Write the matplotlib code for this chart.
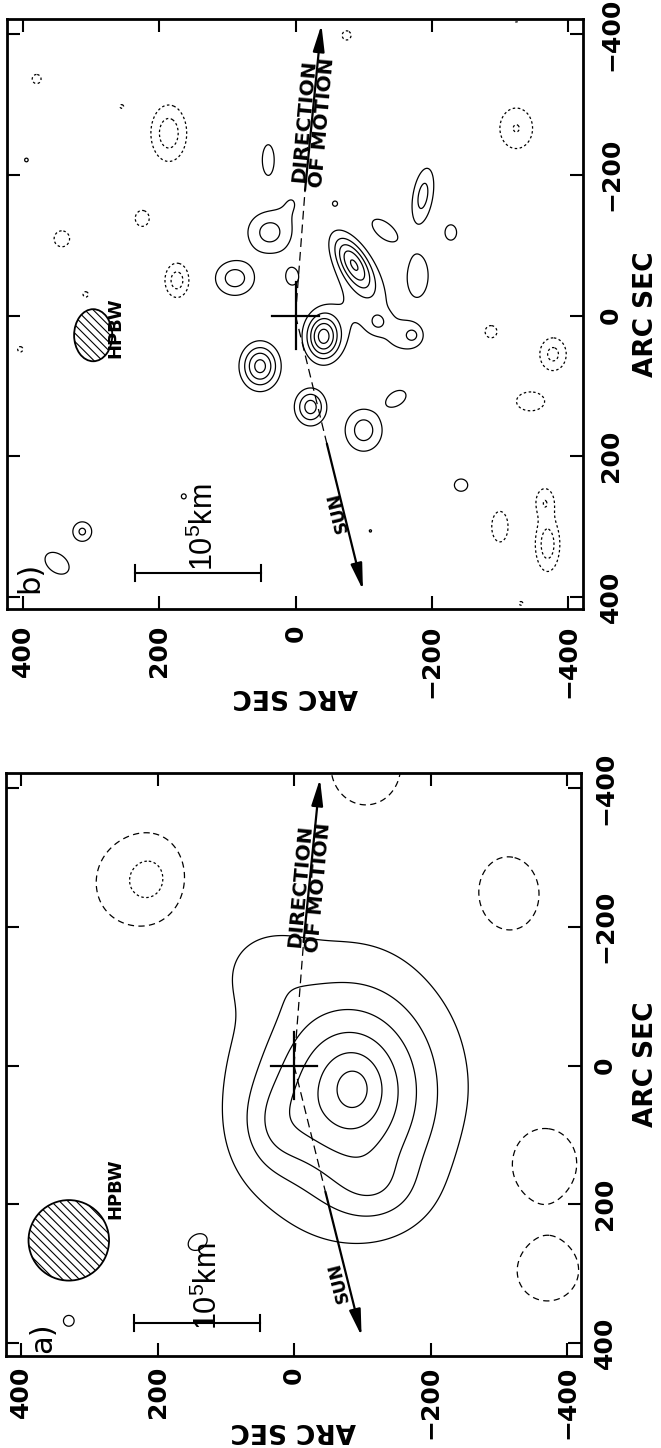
import numpy as np
import matplotlib
matplotlib.use("Agg")
import matplotlib.pyplot as plt
from matplotlib.patches import Ellipse, FancyArrowPatch

plt.rcParams["font.family"] = ["DejaVu Sans"]
plt.rcParams["hatch.linewidth"] = 0.8

# ---------------------------------------------------------------------------
# Offsets in arc seconds.  h runs along the horizontal axis (+400 at left),
# v along the vertical axis (-400 at top).
# ---------------------------------------------------------------------------
TICKS = [400, 200, 0, -200, -400]
TICK_LABELS = ["400", "200", "0", "\u2212200", "\u2212400"]
POS_LEVELS = [1, 2, 3, 4, 5, 6]
NEG_LEVELS = [-2, -1]

# panel a: brightness components (centre h, centre v, peak, width h, width v, tilt deg)
a_h = [-88, -82, -70, 30, -120, 40, 330, 142,
       200, 255, -312, -105, -363, -370]
a_v = [32, 38, 35, 90, 180, -140, 368, 255,
       -270, -262, -245, -430, 140, 295]
a_peak = [1.0, 4.2, 1.3, 1.0, 1.0, 0.8, 1.6, 1.15,
          -1.6, -1.2, -1.6, -2.0, -2.05, -1.6]
a_wh = [25, 80, 150, 35, 45, 45, 8, 16,
        38, 48, 52, 45, 45, 50]
a_wv = [30, 95, 185, 45, 35, 40, 8, 12,
        50, 60, 62, 50, 47, 48]
a_tilt = [0, 0, 0, 0, 0, 0, 45, 30,
          0, 0, 0, 0, 0, 0]

# panel b: brightness components
b_h = [-41, -85, 52, -22, -100, 38, 89, -187, -228, -121, -173, -100, -160, 5, 5,
       40, -131, -180, -148, -243, 313, 350, 164, -58, 395, -110,
       186, -75, 255, 225, 174, -324, -287, -378, -345, -300, -366, -370, -331,
       380, 343, 308, 404, -134, -324]
b_v = [30, -74, 72, 130, 163, -118, -53, -170, -118, 9, 28, -15, 30, -55, -162,
       -221, -121, -57, 118, 241, 307, 352, 257, -159, -221, 306,
       -259, -398, -297, -138, -50, -266, 23, 55, 122, 300, 264, 325, 409,
       -336, -109, -30, 48, -425, -420]
b_peak = [5.4, 4.7, 4.4, 3.5, 2.5, 2.4, 2.5, 2.4, 1.2, 1.3, 1.3, 1.2, 1.0, 1.2, 0.9,
          1.8, 1.6, 1.7, 1.8, 1.8, 2.2, 1.8, 1.5, 1.5, 1.5, 1.3,
          -2.6, -1.8, -1.5, -1.9, -2.5, -2.05, -1.8, -2.3, -1.7, -1.8, -1.8, -2.6, -1.5,
          -1.8, -1.9, -1.6, -1.6, -1.3, -1.2]
b_wh = [17, 14, 18, 15, 20, 24, 21, 11, 14, 10, 10, 35, 22, 14, 16,
        8, 22, 14, 14, 9, 11, 18, 4, 4, 3, 2.5,
        19, 6, 3, 9, 13, 20, 8, 15, 20, 11, 11, 13, 3,
        6, 10, 4, 4, 8, 6]
b_wv = [22, 30, 21, 17, 22, 22, 18, 30, 18, 10, 10, 45, 22, 18, 18,
        20, 11, 27, 9, 8, 11, 12, 4, 4, 3, 2.5,
        29, 6, 3, 10, 18, 24, 8, 18, 13, 20, 16, 28, 3,
        6, 10, 4, 4, 6, 5]
b_tilt = [0, 32, 0, 0, 0, 0, 0, -10, 0, 0, 0, 30, 0, 0, 0,
          0, -38, 0, 30, 0, 0, -35, 45, 45, 0, 0,
          0, 0, 0, 0, 0, 0, 0, 0, 0, 0, 0, 0, 0,
          0, 0, 0, 0, 0, 0]

# beam ellipses (centre h, centre v, half width h, half width v)
a_beam = (330, 252, 59, 58)
b_beam = (297, 28, 28, 37)

# comet track: tips of the sun and motion arrows and where the solid shafts start
SUN_TIP, SUN_SOLID = (-99, 390), (-46, 182)
MOTION_TIP, MOTION_SOLID = (-38, -413), (-14, -178)


def brightness(hh, vv, ch, cv, peak, wh, wv, tilt):
    z = np.zeros_like(hh)
    for h0, v0, p, sh, sv, t in zip(ch, cv, peak, wh, wv, tilt):
        t = np.deg2rad(t)
        dh, dv = hh - h0, vv - v0
        a = dh * np.cos(t) + dv * np.sin(t)
        b = -dh * np.sin(t) + dv * np.cos(t)
        z += p * np.exp(-0.5 * ((a / sh) ** 2 + (b / sv) ** 2))
    return z


def angle_on_screen(ax, p0, p1):
    d0 = ax.transData.transform(p0)
    d1 = ax.transData.transform(p1)
    return np.degrees(np.arctan2(d1[1] - d0[1], d1[0] - d0[0]))


W, H = 661, 1448
fig = plt.figure(figsize=(W / 100, H / 100), dpi=100)


def px_axes(left, right, top, bottom):
    return fig.add_axes([left / W, 1 - bottom / H, (right - left) / W, (bottom - top) / H])


grid = np.linspace(-440, 440, 551)
GH, GV = np.meshgrid(grid, grid)

panels = [
    dict(box=(7, 583, 19, 609), xlim=(423.5, -422.0), ylim=(417.0, -421.3),
         comps=(b_h, b_v, b_peak, b_wh, b_wv, b_tilt), beam=b_beam, tag="b)", tag_at=(390, 372),
         neg_styles=[(0, (2.0, 2.0)), (0, (2.0, 2.0))], xpad=11.5, ypad=11.5,
         xlab_y=-0.125, ylab_x=1.087, hpbw_at=(265, 18),
         motion_at=(-26, -275), sun_at=(-62, 280), km_at=(134, 301), bar_v=366),
    dict(box=(6, 581, 773, 1356), xlim=(422.0, -420.5), ylim=(418.7, -421.6),
         comps=(a_h, a_v, a_peak, a_wh, a_wv, a_tilt), beam=a_beam, tag="a)", tag_at=(368, 392),
         neg_styles=[(0, (2.0, 2.0)), (0, (5.0, 3.5))], xpad=7.2, ypad=8.6,
         xlab_y=-0.105, ylab_x=1.09, hpbw_at=(262, 178),
         motion_at=(-22, -258), sun_at=(-66, 312), km_at=(126, 318), bar_v=371),
]

for p in panels:
    ax = px_axes(*p["box"])
    ax.set_xlim(*p["xlim"])
    ax.set_ylim(*p["ylim"])

    z = brightness(GH, GV, *p["comps"])
    ax.contour(GH, GV, z, levels=POS_LEVELS, colors="k", linewidths=0.9)
    ax.contour(GH, GV, z, levels=NEG_LEVELS, colors="k", linewidths=0.9,
               linestyles=p["neg_styles"])

    # beam
    bh, bv, rh, rv = p["beam"]
    ax.add_patch(Ellipse((bh, bv), 2 * rh, 2 * rv, facecolor="white",
                         edgecolor="k", lw=1.3, hatch="\\\\\\\\"))
    ax.text(*p["hpbw_at"], "HPBW", rotation=90, ha="center", va="center",
            fontsize=13, fontweight="bold")

    # nucleus
    ax.plot([34, -34], [0, 0], color="k", lw=1.6)
    ax.plot([0, 0], [-48, 48], color="k", lw=1.6)

    # sun and motion directions
    for tip, solid in ((SUN_TIP, SUN_SOLID), (MOTION_TIP, MOTION_SOLID)):
        ax.plot([0, solid[0]], [0, solid[1]], color="k", lw=0.9, ls=(0, (7, 4)))
        ax.add_patch(FancyArrowPatch(solid, tip,
                                     arrowstyle="-|>,head_length=1.6,head_width=0.35",
                                     mutation_scale=10, lw=1.6, color="k",
                                     shrinkA=0, shrinkB=0))
    ang_m = angle_on_screen(ax, (0, 0), MOTION_TIP)
    ax.text(*p["motion_at"], "DIRECTION\nOF MOTION", rotation=ang_m, rotation_mode="anchor",
            ha="center", va="center", multialignment="center", linespacing=0.95,
            fontsize=14.5, fontweight="bold")
    ang_s = angle_on_screen(ax, SUN_TIP, (0, 0))
    ax.text(*p["sun_at"], "SUN", rotation=ang_s, rotation_mode="anchor",
            ha="center", va="center", fontsize=12.5, fontweight="bold")

    # linear scale
    bar_v = p["bar_v"]
    ax.plot([235, 50], [bar_v, bar_v], color="k", lw=1.5)
    for e in (235, 50):
        ax.plot([e, e], [bar_v - 11, bar_v + 11], color="k", lw=1.5)
    ax.text(*p["km_at"], r"$\mathregular{10^5}$km", rotation=90, ha="center", va="center",
            fontsize=22, family=["Liberation Sans Narrow", "Liberation Sans"])

    ax.text(*p["tag_at"], p["tag"], rotation=90, ha="center", va="center", fontsize=22)

    # frame and ticks
    ax.tick_params(direction="in", length=9.5, width=1.5, top=True, right=True,
                   left=True, bottom=True, labelleft=False, labelright=True,
                   labeltop=False, labelbottom=True)
    ax.tick_params(axis="x", pad=p["xpad"])
    ax.tick_params(axis="y", pad=p["ypad"])
    ax.set_xticks(TICKS)
    ax.set_yticks(TICKS)
    ax.set_xticklabels(TICK_LABELS, rotation=90, fontsize=18, fontweight="bold")
    ax.set_yticklabels(TICK_LABELS, rotation=90, fontsize=18, fontweight="bold", va="center")
    for s in ax.spines.values():
        s.set_linewidth(2.0)

    ax.set_xlabel("ARC SEC", rotation=180, fontsize=19, fontweight="bold")
    ax.xaxis.set_label_coords(0.5, p["xlab_y"])
    ax.yaxis.set_label_position("right")
    ax.set_ylabel("ARC SEC", fontsize=19, fontweight="bold")
    ax.yaxis.set_label_coords(p["ylab_x"], 0.5)

fig.savefig("out.png", dpi=100)
